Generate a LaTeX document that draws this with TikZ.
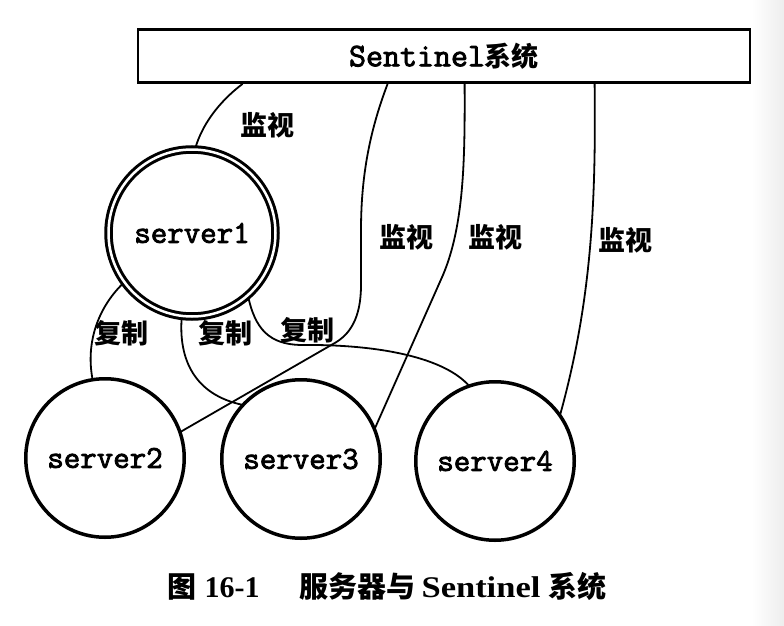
\documentclass[tikz,border=0pt]{standalone}
\usepackage{fontspec}
\setmainfont{Liberation Serif}
\newfontfamily\monof{Latin Modern Mono}[FakeBold=2.6]
\newfontfamily\cjkf{Noto Sans CJK SC}
\usetikzlibrary{backgrounds}

\begin{document}
\begin{tikzpicture}[x=1pt,y=-1pt,
  server/.style={circle,draw,line width=3.5pt,minimum size=158.5pt,inner sep=0pt,outer sep=0pt,
    font=\monof\fontsize{32}{32}\selectfont},
  link/.style={line width=1.8pt},
  tag/.style={font=\cjkf\bfseries\fontsize{27}{27}\selectfont,inner sep=0pt}]
\useasboundingbox (0,0) rectangle (784,626);
\shade[left color=white,right color=black!7] (752,0) rectangle (784,626);

% Sentinel system bar
\node[draw,line width=2.8pt,minimum width=612pt,minimum height=53pt,inner sep=0pt] (sent) at (444,56)
  {{\monof\fontsize{33}{33}\selectfont Sentinel}{\cjkf\bfseries\fontsize{27}{27}\selectfont 系统}};

% servers
\node[server,double,line width=3pt,double distance=2.5pt,minimum size=167pt] (s1) at (192,233) {server1};
\node[server] (s2) at (105,458) {server2};
\node[server] (s3) at (301,459) {server3};
\node[server] (s4) at (495,461) {server4};

% attachment points on the bar
\path (sent.south west) ++(106,0) coordinate (w1);
\path (sent.south west) ++(251,0) coordinate (w2);
\path (sent.south west) ++(328,0) coordinate (w3);
\path (sent.south west) ++(458,0) coordinate (w4);

\begin{scope}[on background layer]
  % monitoring links
  \draw[link] (w1) .. controls (225,97) and (203,120) .. (s1.88);
  \draw[link] (w2) .. controls (372,125) and (361,170) .. (361,230) -- (361,285)
    .. controls (361,318) and (350,335) .. (333,344) -- (s2.19);
  \draw[link] (w3) .. controls (465,160) and (464,225) .. (443,275) -- (s3.22);
  \draw[link] (w4) .. controls (596,200) and (592,300) .. (s4.35);
  % replication links
  \draw[link] (s1.216) .. controls (100,305) and (85,340) .. (s2.99);
  \draw[link] (s1.263) .. controls (178,360) and (195,395) .. (s3.137);
  \draw[link] (s1.312) .. controls (255,330) and (270,344) .. (300,345)
    .. controls (380,344) and (445,358) .. (s4.109);
\end{scope}

% labels
\node[tag] (m1) at (267,125) {监视};
\node[tag] (m2) at (406,237) {监视};
\node[tag] (m3) at (495,237) {监视};
\node[tag] (m4) at (625,240) {监视};
\node[tag] (r1) at (121,333) {复制};
\node[tag] (r2) at (225,333) {复制};
\node[tag] (r3) at (307,330) {复制};

% caption
\node[font=\bfseries\fontsize{30}{30}\selectfont,inner sep=0pt] (cap) at (387,586)
  {{\cjkf\bfseries\fontsize{29}{29}\selectfont 图}\hspace{8pt}16-1\hspace{40pt}{\cjkf\bfseries\fontsize{29}{29}\selectfont 服务器与}\hspace{6pt}\scalebox{1.15}[1]{Sentinel}\hspace{8pt}{\cjkf\bfseries\fontsize{29}{29}\selectfont 系统}};
\end{tikzpicture}
\end{document}
